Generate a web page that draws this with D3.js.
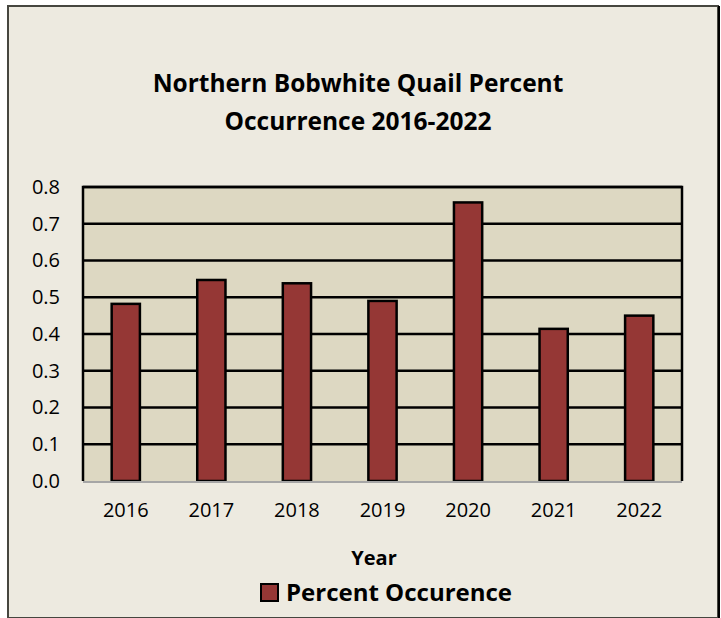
<!DOCTYPE html>
<html>
<head>
<meta charset="utf-8">
<script src="https://cdn.jsdelivr.net/npm/d3@7"></script>
<style>
  body { margin: 0; background: #ffffff; }
  text { font-family: "Open Sans", "DejaVu Sans", sans-serif; fill: #000; }
</style>
</head>
<body>
<svg class="chart"></svg>
<script>
var width = 721;
var height = 618;

// data
var years = ["2016", "2017", "2018", "2019", "2020", "2021", "2022"];
var occurrence = [0.482, 0.547, 0.538, 0.49, 0.758, 0.414, 0.45];
var yTicks = [0, 0.1, 0.2, 0.3, 0.4, 0.5, 0.6, 0.7, 0.8];
var titleLines = ["Northern Bobwhite Quail Percent", "Occurrence 2016-2022"];
var seriesName = "Percent Occurence";

var plot = {left: 83, right: 682, top: 187, bottom: 481};

var chart = d3.select(".chart")
    .attr("width", width)
    .attr("height", height);

// outer frame
chart.append("rect")
    .attr("x", 8).attr("y", 6)
    .attr("width", 710).attr("height", 612)
    .attr("fill", "#edeae0")
    .attr("stroke", "#46463f")
    .attr("stroke-width", 2);
chart.append("line")
    .attr("x1", 719).attr("x2", 719).attr("y1", 6).attr("y2", 618)
    .attr("stroke", "#000").attr("stroke-width", 2);

var x = d3.scaleBand()
    .domain(years)
    .range([plot.left, plot.right])
    .paddingInner(0.67)
    .paddingOuter(0.335);

var y = d3.scaleLinear()
    .domain([0, 0.8])
    .range([plot.bottom, plot.top]);

// plot background
chart.append("rect")
    .attr("x", plot.left).attr("y", plot.top)
    .attr("width", plot.right - plot.left)
    .attr("height", plot.bottom - plot.top)
    .attr("fill", "#ddd8c2");

// gridlines
chart.append("g")
    .selectAll("line")
    .data(yTicks.filter(function(d) { return d > 0; }))
    .enter()
    .append("line")
    .attr("x1", plot.left).attr("x2", plot.right)
    .attr("y1", function(d) { return y(d); })
    .attr("y2", function(d) { return y(d); })
    .attr("stroke", "#000")
    .attr("stroke-width", 2.5);

// plot border (top/left/right black, bottom light)
chart.append("path")
    .attr("d", "M" + plot.left + "," + plot.bottom + "V" + plot.top + "H" + plot.right + "V" + plot.bottom)
    .attr("fill", "none")
    .attr("stroke", "#000")
    .attr("stroke-width", 2.5);

// bars
chart.append("g")
    .selectAll("rect")
    .data(occurrence)
    .enter()
    .append("rect")
    .attr("x", function(d, i) { return x(years[i]); })
    .attr("y", function(d) { return y(d); })
    .attr("width", x.bandwidth())
    .attr("height", function(d) { return y(0) - y(d); })
    .attr("fill", "#953735")
    .attr("stroke", "#000")
    .attr("stroke-width", 2.5);

chart.append("line")
    .attr("x1", plot.left).attr("x2", plot.right)
    .attr("y1", plot.bottom + 1).attr("y2", plot.bottom + 1)
    .attr("stroke", "#a6a6a6")
    .attr("stroke-width", 2);

// y axis labels
var yAxis = d3.axisLeft(y)
    .tickValues(yTicks)
    .tickFormat(d3.format(".1f"))
    .tickSize(0)
    .tickPadding(23);
var gy = chart.append("g")
    .attr("transform", "translate(" + plot.left + ",0)")
    .call(yAxis);
gy.select(".domain").remove();
gy.selectAll("text")
    .attr("font-size", 20)
    .attr("font-family", "Open Sans, sans-serif")
    .attr("fill", "#000");

// x axis labels
var xAxis = d3.axisBottom(x).tickSize(0).tickPadding(22);
var gx = chart.append("g")
    .attr("transform", "translate(0," + plot.bottom + ")")
    .call(xAxis);
gx.select(".domain").remove();
gx.selectAll("text")
    .attr("font-size", 20)
    .attr("font-family", "Open Sans, sans-serif")
    .attr("fill", "#000");

// title
chart.append("g")
    .selectAll("text")
    .data(titleLines)
    .enter()
    .append("text")
    .attr("x", 358)
    .attr("y", function(d, i) { return 92 + i * 38; })
    .attr("text-anchor", "middle")
    .attr("font-size", 24.5)
    .attr("font-weight", "bold")
    .text(function(d) { return d; });

// x axis title
chart.append("text")
    .attr("x", 374).attr("y", 565)
    .attr("text-anchor", "middle")
    .attr("font-size", 20)
    .attr("font-weight", "bold")
    .text("Year");

// legend
chart.append("rect")
    .attr("x", 261).attr("y", 584)
    .attr("width", 17).attr("height", 17)
    .attr("fill", "#953735")
    .attr("stroke", "#000")
    .attr("stroke-width", 2);
chart.append("text")
    .attr("x", 286).attr("y", 601)
    .attr("font-size", 24)
    .attr("font-weight", "bold")
    .text(seriesName);
</script>
</body>
</html>
